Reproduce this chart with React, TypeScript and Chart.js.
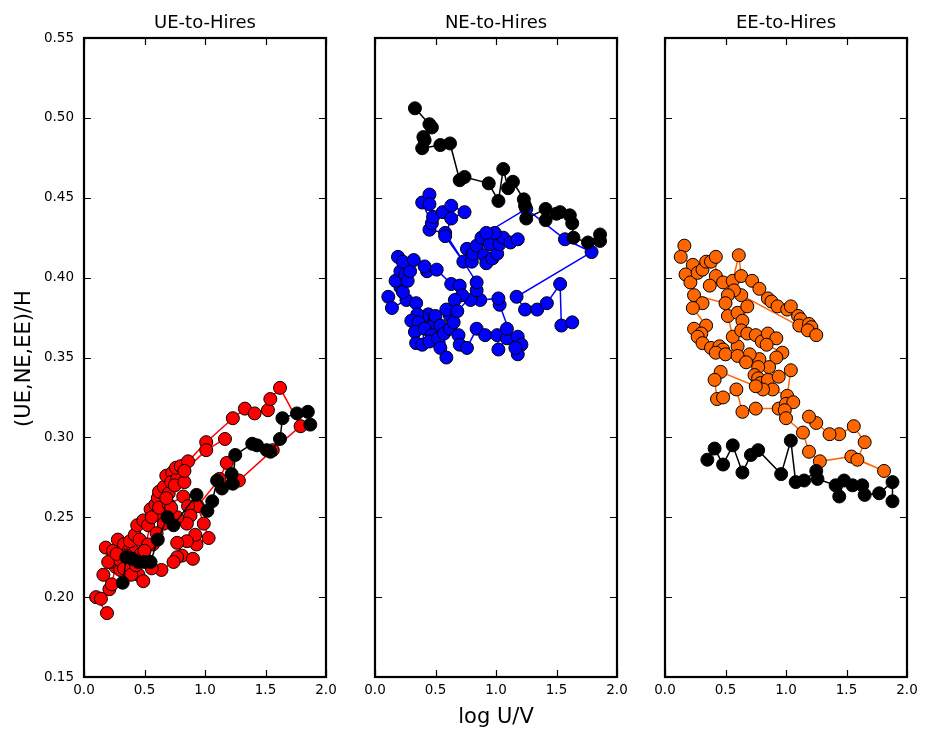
import React, { useEffect, useRef } from 'react';
import { Chart, registerables } from 'chart.js';

Chart.register(...registerables);

const FONT = '"DejaVu Sans", "Liberation Sans", sans-serif';

const panelTitles = ['UE-to-Hires', 'NE-to-Hires', 'EE-to-Hires'];
const xAxisLabel = 'log U/V';
const yAxisLabel = '(UE,NE,EE)/H';
const xTickValues = [0, 0.5, 1.0, 1.5, 2.0];
const yTickValues = [0.15, 0.2, 0.25, 0.3, 0.35, 0.4, 0.45, 0.5, 0.55];

// Panel 1: UE-to-Hires
const ueBlack: [number, number][] = [
  [0.32, 0.209], [0.35, 0.225], [0.40, 0.224], [0.45, 0.222], [0.50, 0.222], [0.55, 0.222],
  [0.61, 0.236], [0.69, 0.250], [0.74, 0.245], [0.93, 0.264], [1.02, 0.254], [1.06, 0.260],
  [1.10, 0.273], [1.14, 0.268], [1.22, 0.277], [1.23, 0.271], [1.25, 0.289], [1.39, 0.296],
  [1.43, 0.295], [1.51, 0.292], [1.54, 0.291], [1.62, 0.299], [1.64, 0.312], [1.76, 0.315],
  [1.85, 0.316], [1.87, 0.308],
];
const ueRed: [number, number][] = [
  [0.19, 0.190], [0.10, 0.200], [0.14, 0.199], [0.21, 0.205], [0.16, 0.214], [0.23, 0.208],
  [0.26, 0.219], [0.30, 0.217], [0.22, 0.222], [0.20, 0.222], [0.18, 0.231], [0.24, 0.229],
  [0.28, 0.236], [0.33, 0.233], [0.30, 0.223], [0.37, 0.229], [0.45, 0.214], [0.49, 0.210],
  [0.42, 0.228], [0.38, 0.235], [0.42, 0.239], [0.46, 0.236], [0.44, 0.245], [0.49, 0.248],
  [0.53, 0.245], [0.55, 0.255], [0.59, 0.258], [0.61, 0.262], [0.62, 0.266], [0.66, 0.269],
  [0.70, 0.265], [0.68, 0.276], [0.73, 0.278], [0.72, 0.272], [0.77, 0.274], [0.76, 0.281],
  [0.80, 0.282], [0.86, 0.285], [1.01, 0.297], [1.23, 0.312], [1.33, 0.318], [1.41, 0.315],
  [1.52, 0.317], [1.54, 0.324], [1.62, 0.331], [1.79, 0.307], [1.56, 0.292], [1.28, 0.273],
  [1.18, 0.284], [1.12, 0.274], [0.94, 0.257], [0.99, 0.246], [1.03, 0.237], [0.93, 0.233],
  [0.92, 0.239], [0.85, 0.235], [0.77, 0.234], [0.81, 0.226], [0.90, 0.224], [0.77, 0.225],
  [0.74, 0.222], [0.64, 0.217], [0.56, 0.218], [0.52, 0.223], [0.57, 0.233], [0.63, 0.251],
  [0.66, 0.246], [0.60, 0.240], [0.53, 0.233], [0.47, 0.227], [0.40, 0.221], [0.35, 0.226],
  [0.27, 0.227], [0.33, 0.218], [0.39, 0.214], [0.43, 0.220], [0.50, 0.229], [0.56, 0.250],
  [0.62, 0.256], [0.70, 0.258], [0.82, 0.263], [0.86, 0.257], [0.88, 0.251], [0.85, 0.246],
  [0.77, 0.250], [0.72, 0.256], [0.68, 0.262], [0.75, 0.270], [0.83, 0.272], [0.83, 0.279],
  [1.01, 0.292], [1.165, 0.299],
];

// Panel 2: NE-to-Hires
const neBlack: [number, number][] = [
  [0.33, 0.506], [0.45, 0.496], [0.47, 0.494], [0.41, 0.486], [0.40, 0.488], [0.39, 0.481],
  [0.54, 0.483], [0.62, 0.484], [0.70, 0.461], [0.74, 0.463], [0.94, 0.459], [1.02, 0.448],
  [1.06, 0.468], [1.10, 0.456], [1.14, 0.460], [1.23, 0.449], [1.24, 0.445], [1.25, 0.437],
  [1.41, 0.443], [1.41, 0.436], [1.50, 0.440], [1.53, 0.441], [1.61, 0.439], [1.63, 0.434],
  [1.64, 0.425], [1.76, 0.422], [1.86, 0.427], [1.86, 0.423],
];
const neBlue: [number, number][] = [
  [0.11, 0.388], [0.14, 0.381], [0.26, 0.386], [0.34, 0.384], [0.21, 0.394], [0.23, 0.391],
  [0.17, 0.398], [0.21, 0.404], [0.25, 0.402], [0.27, 0.398], [0.29, 0.404], [0.19, 0.413],
  [0.23, 0.410], [0.32, 0.411], [0.43, 0.404], [0.41, 0.407], [0.51, 0.405], [0.63, 0.396],
  [0.70, 0.395], [0.62, 0.376], [0.59, 0.380], [0.48, 0.372], [0.44, 0.377], [0.50, 0.376],
  [0.39, 0.375], [0.35, 0.377], [0.30, 0.373], [0.36, 0.372], [0.33, 0.366], [0.34, 0.359],
  [0.39, 0.358], [0.41, 0.368], [0.47, 0.364], [0.45, 0.360], [0.54, 0.370], [0.52, 0.362],
  [0.54, 0.356], [0.59, 0.350], [0.57, 0.365], [0.62, 0.368], [0.65, 0.372], [0.69, 0.364],
  [0.70, 0.358], [0.76, 0.356], [0.84, 0.368], [0.91, 0.364], [1.01, 0.364], [1.02, 0.355],
  [1.09, 0.362], [1.09, 0.368], [1.18, 0.363], [1.21, 0.358], [1.18, 0.352], [1.16, 0.356],
  [1.03, 0.383], [1.02, 0.387], [0.87, 0.386], [0.79, 0.386], [0.72, 0.389], [0.66, 0.386],
  [0.68, 0.379], [0.84, 0.392], [0.84, 0.397], [0.58, 0.428], [0.45, 0.430], [0.47, 0.434],
  [0.39, 0.447], [0.45, 0.452], [0.45, 0.446], [0.48, 0.438], [0.56, 0.441], [0.63, 0.445],
  [0.74, 0.441], [0.63, 0.437], [0.58, 0.426], [0.73, 0.410], [0.80, 0.410], [0.76, 0.418],
  [0.81, 0.415], [0.84, 0.420], [0.88, 0.425], [0.90, 0.414], [0.92, 0.409], [0.97, 0.412],
  [1.01, 0.415], [0.95, 0.421], [1.03, 0.421], [1.06, 0.425], [1.12, 0.422], [1.18, 0.424],
  [0.99, 0.428], [0.92, 0.428], [1.25, 0.443], [1.57, 0.424], [1.79, 0.416], [1.17, 0.388],
  [1.24, 0.380], [1.34, 0.380], [1.42, 0.384], [1.53, 0.396], [1.54, 0.370], [1.63, 0.372],
];

// Panel 3: EE-to-Hires
const eeBlack: [number, number][] = [
  [0.35, 0.286], [0.41, 0.293], [0.48, 0.283], [0.56, 0.295], [0.64, 0.278], [0.71, 0.289],
  [0.77, 0.292], [0.96, 0.277], [1.04, 0.298], [1.08, 0.272], [1.15, 0.273], [1.25, 0.279],
  [1.26, 0.274], [1.41, 0.270], [1.44, 0.263], [1.48, 0.273], [1.55, 0.270], [1.63, 0.270],
  [1.65, 0.264], [1.77, 0.265], [1.88, 0.272], [1.88, 0.260],
];
const eeOrange: [number, number][] = [
  [0.16, 0.420], [0.13, 0.413], [0.23, 0.408], [0.17, 0.402], [0.21, 0.397], [0.27, 0.403],
  [0.31, 0.405], [0.34, 0.410], [0.38, 0.410], [0.42, 0.413], [0.42, 0.401], [0.37, 0.395],
  [0.48, 0.397], [0.56, 0.398], [0.61, 0.414], [0.63, 0.401], [0.72, 0.398], [0.78, 0.393],
  [0.85, 0.387], [0.88, 0.385], [0.93, 0.382], [1.01, 0.380], [1.04, 0.382], [1.10, 0.376],
  [1.12, 0.374], [1.11, 0.370], [1.19, 0.371], [1.21, 0.369], [1.18, 0.367], [1.25, 0.364],
  [0.63, 0.389], [0.57, 0.392], [0.52, 0.389], [0.50, 0.384], [0.24, 0.389], [0.31, 0.384],
  [0.23, 0.381], [0.34, 0.370], [0.24, 0.368], [0.30, 0.365], [0.27, 0.363], [0.31, 0.359],
  [0.38, 0.356], [0.45, 0.357], [0.48, 0.355], [0.42, 0.353], [0.50, 0.352], [0.60, 0.357],
  [0.56, 0.363], [0.52, 0.376], [0.60, 0.378], [0.68, 0.382], [0.64, 0.373], [0.63, 0.367],
  [0.68, 0.365], [0.75, 0.364], [0.80, 0.360], [0.85, 0.365], [0.92, 0.362], [0.84, 0.358],
  [0.97, 0.353], [0.92, 0.350], [0.86, 0.344], [0.78, 0.349], [0.70, 0.352], [0.60, 0.351],
  [0.67, 0.347], [0.77, 0.344], [0.74, 0.339], [0.77, 0.337], [0.79, 0.334], [0.85, 0.336],
  [0.94, 0.338], [1.04, 0.342], [1.01, 0.326], [0.89, 0.330], [0.81, 0.330], [0.75, 0.332],
  [0.46, 0.341], [0.41, 0.336], [0.43, 0.324], [0.48, 0.325], [0.59, 0.330], [0.64, 0.316],
  [0.75, 0.318], [0.94, 0.318], [1.00, 0.321], [1.06, 0.322], [0.99, 0.317], [1.00, 0.312],
  [1.14, 0.303], [1.19, 0.291], [1.28, 0.285], [1.54, 0.288], [1.81, 0.279], [1.59, 0.286],
  [1.65, 0.297], [1.56, 0.307], [1.44, 0.302], [1.36, 0.302], [1.25, 0.309], [1.19, 0.313],
];

const panelSeries = [
  { black: ueBlack, colored: ueRed, color: '#ff0000' },
  { black: neBlack, colored: neBlue, color: '#0000ff' },
  { black: eeBlack, colored: eeOrange, color: '#ff6600' },
];

// layout (plot-area boundaries in page pixels)
const W = 926;
const H = 732;
const plotLefts = [84, 375, 665];
const plotWidth = 242;
const plotTop = 38;
const plotBottom = 677;
const Y_AXIS_W = 60;
const X_AXIS_H = 30;

const decorPlugin = {
  id: 'decor',
  afterDatasetsDraw(chart: any, _args: any, opts: any) {
    const { ctx, chartArea: ca, scales } = chart;
    ctx.save();
    ctx.strokeStyle = '#000';
    ctx.lineWidth = 1.2;
    const tl = 7;
    ctx.beginPath();
    for (const v of xTickValues) {
      const px = Math.round(scales.x.getPixelForValue(v)) + 0.5;
      ctx.moveTo(px, ca.bottom);
      ctx.lineTo(px, ca.bottom - tl);
      ctx.moveTo(px, ca.top);
      ctx.lineTo(px, ca.top + tl);
    }
    for (const v of yTickValues) {
      const py = Math.round(scales.y.getPixelForValue(v)) + 0.5;
      ctx.moveTo(ca.left, py);
      ctx.lineTo(ca.left + tl, py);
      ctx.moveTo(ca.right, py);
      ctx.lineTo(ca.right - tl, py);
    }
    ctx.stroke();
    ctx.lineWidth = 2.2;
    ctx.strokeRect(ca.left, ca.top, ca.right - ca.left, ca.bottom - ca.top);

    ctx.fillStyle = '#000';
    ctx.textAlign = 'center';
    ctx.textBaseline = 'alphabetic';
    ctx.font = `18px ${FONT}`;
    ctx.fillText(opts.title, (ca.left + ca.right) / 2, 28);
    if (opts.xLabel) {
      ctx.font = `21px ${FONT}`;
      ctx.fillText(opts.xLabel, (ca.left + ca.right) / 2, 723);
    }
    if (opts.yLabel) {
      ctx.font = `21px ${FONT}`;
      ctx.translate(29.5, (ca.top + ca.bottom) / 2 + 1);
      ctx.rotate(-Math.PI / 2);
      ctx.fillText(opts.yLabel, 0, 0);
    }
    ctx.restore();
  },
};

function makeConfig(i: number): any {
  const s = panelSeries[i];
  const left = plotLefts[i];
  const toPts = (arr: [number, number][]) => arr.map(([x, y]) => ({ x, y }));
  return {
    type: 'scatter',
    data: {
      datasets: [
        {
          data: toPts(s.black),
          showLine: true,
          borderColor: '#000000',
          borderWidth: 1.5,
          pointBackgroundColor: '#000000',
          pointBorderColor: '#000000',
          pointBorderWidth: 1,
          pointRadius: 6.5,
          pointHoverRadius: 6.5,
        },
        {
          data: toPts(s.colored),
          showLine: true,
          borderColor: s.color,
          borderWidth: 1.5,
          pointBackgroundColor: s.color,
          pointBorderColor: '#000000',
          pointBorderWidth: 1,
          pointRadius: 6.5,
          pointHoverRadius: 6.5,
        },
      ],
    },
    plugins: [decorPlugin],
    options: {
      animation: false,
      responsive: false,
      devicePixelRatio: 1,
      events: [],
      layout: {
        padding: {
          left: left - Y_AXIS_W,
          right: W - (left + plotWidth),
          top: plotTop,
          bottom: H - plotBottom - X_AXIS_H,
        },
      },
      plugins: {
        legend: { display: false },
        tooltip: { enabled: false },
        title: { display: false },
        decor: {
          title: panelTitles[i],
          xLabel: i === 1 ? xAxisLabel : '',
          yLabel: i === 0 ? yAxisLabel : '',
        },
      },
      scales: {
        x: {
          type: 'linear',
          min: 0,
          max: 2,
          grid: { display: false, drawTicks: false },
          border: { display: false },
          ticks: {
            stepSize: 0.5,
            padding: 5,
            color: '#000',
            maxRotation: 0,
            font: { family: FONT, size: 13.5 },
            callback: (v: number) => v.toFixed(1),
          },
          afterFit: (scale: any) => {
            scale.height = X_AXIS_H;
          },
        },
        y: {
          type: 'linear',
          min: 0.15,
          max: 0.55,
          grid: { display: false, drawTicks: false },
          border: { display: false },
          ticks: {
            display: i === 0,
            stepSize: 0.05,
            padding: 10,
            color: '#000',
            font: { family: FONT, size: 13.5 },
            callback: (v: number) => v.toFixed(2),
          },
          afterFit: (scale: any) => {
            scale.width = Y_AXIS_W;
          },
        },
      },
    },
  };
}

export default function App() {
  const r0 = useRef<HTMLCanvasElement>(null);
  const r1 = useRef<HTMLCanvasElement>(null);
  const r2 = useRef<HTMLCanvasElement>(null);

  useEffect(() => {
    const refs = [r0, r1, r2];
    const charts = refs.map((r, i) => new Chart(r.current as HTMLCanvasElement, makeConfig(i)));
    return () => charts.forEach((c) => c.destroy());
  }, []);

  const cs: React.CSSProperties = { position: 'absolute', left: 0, top: 0, width: W, height: H };
  return (
    <div style={{ position: 'fixed', left: 0, top: 0, width: W, height: H, background: '#ffffff' }}>
      <canvas ref={r0} width={W} height={H} style={cs} />
      <canvas ref={r1} width={W} height={H} style={cs} />
      <canvas ref={r2} width={W} height={H} style={cs} />
    </div>
  );
}
